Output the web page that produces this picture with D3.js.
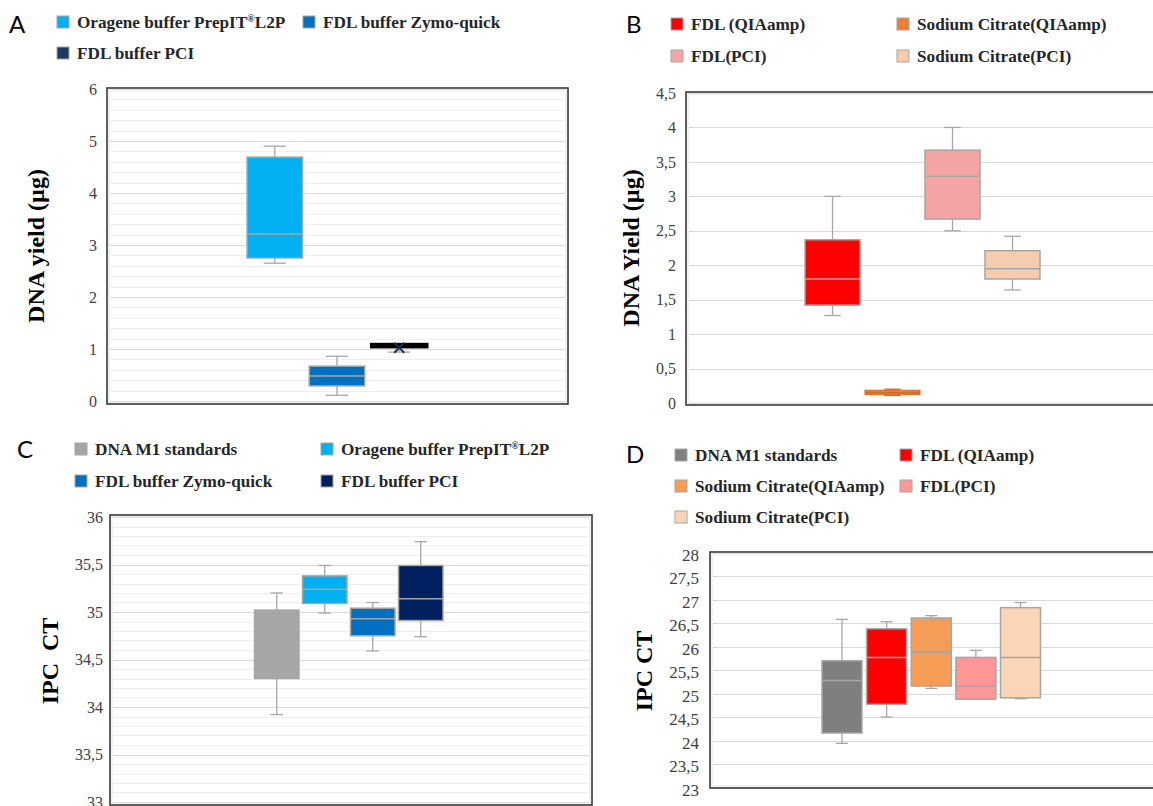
<!DOCTYPE html>
<html>
<head>
<meta charset="utf-8">
<script src="https://cdn.jsdelivr.net/npm/d3@7"></script>
<style>
  body { margin: 0; background: #ffffff; }
  svg { display: block; }
</style>
</head>
<body>
<svg id="chart" width="1153" height="806"></svg>
<script>
// ================= DATA =================
// Panel A : DNA yield (µg)
const seriesA  = ["Oragene buffer PrepIT®L2P", "FDL buffer Zymo-quick", "FDL buffer PCI"];
const minA     = [2.65, 0.11, 0.94];
const q1A      = [2.75, 0.29, 1.04];
const medianA  = [3.21, 0.48, 1.065];
const q3A      = [4.69, 0.67, 1.09];
const maxA     = [4.90, 0.86, 1.09];
const meanA    = [null, null, 1.025];
const ticksA   = [0, 1, 2, 3, 4, 5, 6];

// Panel B : DNA Yield (µg)
const seriesB  = ["FDL (QIAamp)", "Sodium Citrate(QIAamp)", "FDL(PCI)", "Sodium Citrate(PCI)"];
const minB     = [1.27, 0.11, 2.50, 1.64];
const q1B      = [1.42, 0.12, 2.67, 1.80];
const medianB  = [1.80, 0.15, 3.29, 1.95];
const q3B      = [2.37, 0.185, 3.67, 2.21];
const maxB     = [3.00, 0.20, 4.00, 2.42];
const ticksB   = [0, 0.5, 1, 1.5, 2, 2.5, 3, 3.5, 4, 4.5];

// Panel C : IPC CT
const seriesC  = ["DNA M1 standards", "Oragene buffer PrepIT®L2P", "FDL buffer Zymo-quick", "FDL buffer PCI"];
const minC     = [33.92, 34.99, 34.59, 34.74];
const q1C      = [34.30, 35.09, 34.75, 34.91];
const medianC  = [35.01, 35.24, 34.93, 35.14];
const q3C      = [35.02, 35.38, 35.04, 35.49];
const maxC     = [35.20, 35.49, 35.10, 35.74];
const ticksC   = [33, 33.5, 34, 34.5, 35, 35.5, 36];

// Panel D : IPC CT
const seriesD  = ["DNA M1 standards", "FDL (QIAamp)", "Sodium Citrate(QIAamp)", "FDL(PCI)", "Sodium Citrate(PCI)"];
const minD     = [23.94, 24.50, 25.11, 24.88, 24.89];
const q1D      = [24.16, 24.77, 25.16, 24.88, 24.91];
const medianD  = [25.28, 25.77, 25.88, 25.16, 25.77];
const q3D      = [25.70, 26.38, 26.61, 25.77, 26.83];
const maxD     = [26.58, 26.53, 26.66, 25.92, 26.94];
const ticksD   = [23, 23.5, 24, 24.5, 25, 25.5, 26, 26.5, 27, 27.5, 28];

// ================= DRAWING =================
const svg = d3.select("#chart");
const commaFmt = d3.formatLocale({decimal: ",", thousands: ".", grouping: [3], currency: ["", ""]}).format("~f");
const SERIF = "'Liberation Serif', 'Times New Roman', serif";
const SANS = "Lato, 'Open Sans', sans-serif";
const GRAY = "#a6a6a6";

function drawPanel(cfg) {
  const g = svg.append("g");
  const f = cfg.frame;

  // panel letter
  g.append("text").attr("x", cfg.letterPos[0]).attr("y", cfg.letterPos[1])
    .attr("font-family", SANS).attr("font-size", 24).attr("fill", "#000")
    .text(cfg.letter);

  // legend
  cfg.legend.forEach((it, i) => {
    const sx = it[0], sy = it[1];
    const name = cfg.series[i];
    g.append("rect").attr("x", sx).attr("y", sy).attr("width", 12).attr("height", 12)
      .attr("fill", cfg.colors[i]).attr("stroke", GRAY).attr("stroke-width", 1);
    const t = g.append("text").attr("x", sx + 20).attr("y", sy + 11.5)
      .attr("font-family", SERIF).attr("font-weight", "bold").attr("font-size", 17.2)
      .attr("fill", "#262626");
    if (name.includes("®")) {
      const parts = name.split("®");
      t.append("tspan").text(parts[0]);
      t.append("tspan").attr("font-size", 10).attr("dy", -6).text("®");
      t.append("tspan").attr("dy", 6).text(parts[1]);
    } else {
      t.text(name);
    }
  });

  // scales
  const y = d3.scaleLinear().domain(cfg.yDomain).range(cfg.yRange);
  const x = d3.scaleBand().domain(cfg.series).range(cfg.xRange).paddingInner(cfg.pad);

  // gridlines
  const x1 = f.x + 3, x2 = f.x2 - 3;
  if (cfg.minorStep) {
    const minors = d3.range(cfg.yDomain[0], cfg.yDomain[1] + 1e-9, cfg.minorStep)
      .filter(v => !cfg.ticks.some(t => Math.abs(t - v) < 1e-6));
    g.append("g").selectAll("line").data(minors).join("line")
      .attr("x1", x1).attr("x2", x2)
      .attr("y1", d => Math.round(y(d)) + 0.5).attr("y2", d => Math.round(y(d)) + 0.5)
      .attr("stroke", "#eeeeee").attr("stroke-width", 1);
  }
  g.append("g").selectAll("line").data(cfg.ticks).join("line")
    .attr("x1", x1).attr("x2", x2)
    .attr("y1", d => Math.round(y(d)) + 0.5).attr("y2", d => Math.round(y(d)) + 0.5)
    .attr("stroke", "#d9d9d9").attr("stroke-width", 1.2);

  // frame
  g.append("rect").attr("x", f.x + 2).attr("y", f.y + 2)
    .attr("width", f.x2 - f.x - 4).attr("height", f.y2 - f.y - 4)
    .attr("fill", "none").attr("stroke", "#e3e3e3").attr("stroke-width", 1);
  g.append("rect").attr("x", f.x).attr("y", f.y)
    .attr("width", f.x2 - f.x).attr("height", f.y2 - f.y)
    .attr("fill", "none").attr("stroke", "#3a3a3a").attr("stroke-width", 1.6);

  // axis
  const axis = d3.axisLeft(y).tickValues(cfg.ticks).tickSize(0).tickPadding(cfg.tickGap)
    .tickFormat(d => commaFmt(d));
  const ag = g.append("g").attr("transform", `translate(${f.x},0)`).call(axis);
  ag.select(".domain").remove();
  ag.attr("font-family", SERIF);
  ag.selectAll("text").attr("font-family", SERIF).attr("font-size", cfg.tickFont)
    .attr("fill", "#404040").attr("dy", cfg.tickDy);

  // axis title
  g.append("text")
    .attr("transform", `translate(${cfg.titlePos[0]},${cfg.titlePos[1]}) rotate(-90)`)
    .attr("text-anchor", "middle").attr("dominant-baseline", "central")
    .attr("font-family", SERIF).attr("font-weight", "bold").attr("font-size", 24)
    .attr("fill", "#000").text(cfg.title);

  // boxes
  const bw = x.bandwidth();
  cfg.series.forEach((s, i) => {
    const cx = x(s) + bw / 2;
    const capW = bw * cfg.capRatio;
    const stroke = cfg.boxStroke ? cfg.boxStroke[i] : GRAY;
    const sw = cfg.boxStrokeWidth ? cfg.boxStrokeWidth[i] : 1.5;
    const wc = cfg.whiskerColor ? cfg.whiskerColor[i] : GRAY;
    const bs = g.append("g");
    // whiskers
    bs.append("line").attr("x1", cx).attr("x2", cx).attr("y1", y(cfg.max[i])).attr("y2", y(cfg.q3[i]))
      .attr("stroke", wc).attr("stroke-width", 1.3);
    bs.append("line").attr("x1", cx).attr("x2", cx).attr("y1", y(cfg.q1[i])).attr("y2", y(cfg.min[i]))
      .attr("stroke", wc).attr("stroke-width", 1.3);
    bs.append("line").attr("x1", cx - capW / 2).attr("x2", cx + capW / 2).attr("y1", y(cfg.max[i])).attr("y2", y(cfg.max[i]))
      .attr("stroke", wc).attr("stroke-width", 1.3);
    bs.append("line").attr("x1", cx - capW / 2).attr("x2", cx + capW / 2).attr("y1", y(cfg.min[i])).attr("y2", y(cfg.min[i]))
      .attr("stroke", wc).attr("stroke-width", 1.3);
    // box
    bs.append("rect").attr("x", x(s)).attr("width", bw)
      .attr("y", y(cfg.q3[i])).attr("height", Math.max(0.5, y(cfg.q1[i]) - y(cfg.q3[i])))
      .attr("fill", cfg.colors[i]).attr("stroke", stroke).attr("stroke-width", sw);
    // median
    bs.append("line").attr("x1", x(s)).attr("x2", x(s) + bw).attr("y1", y(cfg.median[i])).attr("y2", y(cfg.median[i]))
      .attr("stroke", stroke).attr("stroke-width", 1.5);
    // mean marker
    if (cfg.mean && cfg.mean[i] != null) {
      const my = y(cfg.mean[i]);
      bs.append("path").attr("d", `M${cx - 5},${my - 5}L${cx + 5},${my + 5}M${cx - 5},${my + 5}L${cx + 5},${my - 5}`)
        .attr("stroke", "#1a2a50").attr("stroke-width", 2).attr("fill", "none");
    }
  });
}

drawPanel({
  letter: "A", letterPos: [9, 33],
  series: seriesA, min: minA, q1: q1A, median: medianA, q3: q3A, max: maxA, mean: meanA,
  colors: ["#00b0f0", "#0070c0", "#1f3864"],
  boxStroke: [GRAY, GRAY, "#000000"], boxStrokeWidth: [1.5, 1.5, 3],
  legend: [[57, 16], [303, 16], [57, 47]],
  frame: {x: 107, y: 88, x2: 568, y2: 404},
  yDomain: [0, 6], yRange: [401, 89], ticks: ticksA, minorStep: 0.2,
  xRange: [247, 427], pad: 0.108, capRatio: 0.4,
  tickGap: 10, tickFont: 16, tickDy: "0.32em",
  title: "DNA yield (µg)", titlePos: [36, 246]
});

drawPanel({
  letter: "B", letterPos: [626, 33],
  series: seriesB, min: minB, q1: q1B, median: medianB, q3: q3B, max: maxB,
  colors: ["#ff0000", "#ed7d31", "#f4a4a4", "#f8cbad"],
  boxStroke: [GRAY, "#d4691f", GRAY, GRAY], boxStrokeWidth: [1.5, 1, 1.5, 1.5],
  whiskerColor: [GRAY, "#d4691f", GRAY, GRAY],
  legend: [[671, 18], [897, 18], [671, 50], [897, 50]],
  frame: {x: 686, y: 92, x2: 1160, y2: 405},
  yDomain: [0, 4.5], yRange: [403, 93], ticks: ticksB, minorStep: null,
  xRange: [805, 1040], pad: 0.083, capRatio: 0.3,
  tickGap: 10, tickFont: 16, tickDy: "0.32em",
  title: "DNA Yield (µg)", titlePos: [631, 248]
});

drawPanel({
  letter: "C", letterPos: [17, 458],
  series: seriesC, min: minC, q1: q1C, median: medianC, q3: q3C, max: maxC,
  colors: ["#a6a6a6", "#00b0f0", "#0070c0", "#002060"],
  legend: [[75, 443], [321, 443], [75, 475], [321, 475]],
  frame: {x: 110, y: 515, x2: 592, y2: 805},
  yDomain: [33, 36], yRange: [802, 517], ticks: ticksC, minorStep: 0.1,
  xRange: [254.5, 443], pad: 0.073, capRatio: 0.28,
  tickGap: 7, tickFont: 16, tickDy: "0.32em",
  title: "IPC\u00a0\u00a0CT", titlePos: [50, 661]
});

drawPanel({
  letter: "D", letterPos: [626, 463],
  series: seriesD, min: minD, q1: q1D, median: medianD, q3: q3D, max: maxD,
  colors: ["#7f7f7f", "#ff0000", "#f59d56", "#ff9797", "#fbd5b5"],
  legend: [[675, 449], [900, 449], [675, 480], [900, 480], [675, 511]],
  frame: {x: 710, y: 552, x2: 1160, y2: 788},
  yDomain: [23, 28], yRange: [787.5, 552.7], ticks: ticksD, minorStep: null,
  xRange: [822, 1040.5], pad: 0.104, capRatio: 0.3,
  tickGap: 11, tickFont: 17, tickDy: "0.45em",
  title: "IPC CT", titlePos: [644, 671]
});
</script>
</body>
</html>
